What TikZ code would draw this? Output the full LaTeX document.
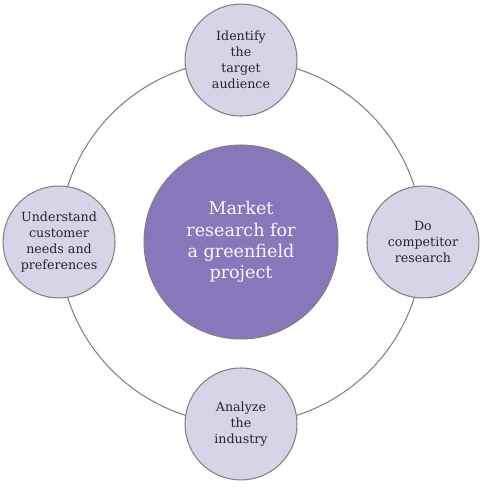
\documentclass[tikz,border=0pt]{standalone}
\usepackage{fontspec}
\setmainfont{DejaVu Serif}
\usepackage{xcolor}
\usetikzlibrary{positioning,backgrounds}

\definecolor{hubfill}{HTML}{8878BB}
\definecolor{stepfill}{HTML}{D9D3E8}
\definecolor{ringgray}{HTML}{808080}

\begin{document}
\begin{tikzpicture}[
  x=0.02cm, y=0.02cm,
  node distance=3.64cm, on grid,
  hub/.style={circle, draw=ringgray, line width=0.6pt, fill=hubfill,
    minimum size=3.88cm, inner sep=0pt, align=center, text=white!94!hubfill,
    font=\fontsize{10}{12.2}\selectfont},
  stepbox/.style={circle, draw=ringgray, line width=0.6pt, fill=stepfill,
    minimum size=2.24cm, inner sep=0pt, align=center, text=black!85,
    font=\fontsize{7.2}{9.1}\selectfont},
  ring/.style={draw=ringgray, line width=0.6pt},
]
  \useasboundingbox (0,0) rectangle (500,-500);

  % Central topic
  \node[hub] (hub) at (241,-242) {Market\\research for\\a greenfield\\project};

  % Steps around the ring
  \node[stepbox, above=of hub] (target) {Identify\\the\\target\\audience};
  \node[stepbox, right=of hub] (rivals) {Do\\competitor\\research};
  \node[stepbox, below=of hub] (industry) {Analyze\\the\\industry};
  \node[stepbox, left=of hub] (needs) {Understand\\customer\\needs and\\preferences};

  % Ring behind the steps
  \begin{scope}[on background layer]
    \draw[ring] (hub.center) circle[radius=182];
  \end{scope}
\end{tikzpicture}
\end{document}
